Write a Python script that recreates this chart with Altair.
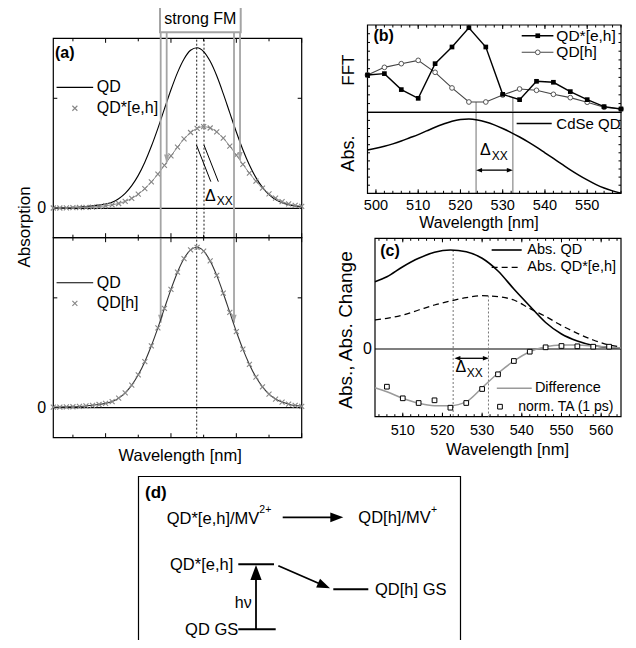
import altair as alt
import pandas as pd

# ---------------- data ----------------
# (a) model absorption spectra (arbitrary wavelength grid, no tick labels in the original)
A_WL = list(range(484, 561, 2))
A_QD = [0.003, 0.004, 0.005, 0.006, 0.008, 0.011, 0.015, 0.020, 0.027, 0.038,
        0.060, 0.093, 0.141, 0.205, 0.287, 0.386, 0.498, 0.619, 0.738, 0.845,
        0.930, 0.984, 1.000, 0.976, 0.915, 0.825, 0.714, 0.594, 0.475, 0.365,
        0.270, 0.191, 0.130, 0.085, 0.054, 0.035, 0.022, 0.014, 0.009]
A_QD_EH = [0.002, 0.002, 0.003, 0.004, 0.005, 0.006, 0.008, 0.011, 0.016, 0.022,
           0.030, 0.043, 0.062, 0.088, 0.122, 0.164, 0.213, 0.268, 0.326, 0.381,
           0.432, 0.472, 0.498, 0.508, 0.500, 0.476, 0.437, 0.387, 0.331, 0.274,
           0.219, 0.169, 0.126, 0.090, 0.063, 0.042, 0.028, 0.018, 0.012]
A_QD_H = [0.003, 0.004, 0.005, 0.006, 0.008, 0.011, 0.015, 0.020, 0.027, 0.038,
          0.060, 0.093, 0.141, 0.205, 0.287, 0.386, 0.498, 0.619, 0.738, 0.845,
          0.930, 0.984, 1.000, 0.976, 0.915, 0.825, 0.714, 0.594, 0.475, 0.365,
          0.270, 0.191, 0.130, 0.085, 0.054, 0.035, 0.022, 0.014, 0.009]
A_TICK_MAJOR = [500, 520, 540, 560]
A_TICK_MINOR = [490, 510, 530, 550]

# (b) FFT amplitudes and CdSe QD absorption
B_FFT_WL = list(range(498, 559, 4))
B_FFT_EH = [0.427, 0.443, 0.260, 0.160, 0.557, 0.748, 0.969, 0.748,
            0.206, 0.145, 0.355, 0.344, 0.237, 0.145, 0.065, 0.038]
B_FFT_H = [0.427, 0.515, 0.557, 0.595, 0.458, 0.279, 0.118, 0.118,
           0.198, 0.267, 0.252, 0.206, 0.168, 0.115, 0.057, 0.038]
B_ABS_WL = list(range(498, 559, 2))
B_ABS = [0.534, 0.555, 0.580, 0.610, 0.645, 0.685, 0.725, 0.770, 0.815, 0.855,
         0.890, 0.910, 0.916, 0.905, 0.880, 0.845, 0.800, 0.750, 0.695, 0.635,
         0.570, 0.500, 0.430, 0.360, 0.290, 0.225, 0.165, 0.110, 0.065, 0.030, 0.000]
B_TICKS = [500, 510, 520, 530, 540, 550]

# (c) absorption, absorption change, transient absorption
C_WL = [503, 506, 510, 514, 518, 522, 526, 530, 534, 538, 542, 546, 550, 554, 558, 562, 565]
C_ABS_QD = [0.673, 0.723, 0.823, 0.907, 0.967, 0.990, 0.973, 0.907, 0.780, 0.600,
            0.430, 0.265, 0.150, 0.080, 0.035, 0.015, 0.007]
C_ABS_QD_EH = [0.290, 0.307, 0.340, 0.390, 0.440, 0.480, 0.513, 0.533, 0.523, 0.490,
               0.405, 0.325, 0.235, 0.157, 0.090, 0.040, 0.020]
C_DIFF = [-0.387, -0.427, -0.493, -0.543, -0.567, -0.567, -0.527, -0.387, -0.243, -0.120,
          -0.027, 0.023, 0.040, 0.040, 0.030, 0.017, 0.010]
C_TA_WL = list(range(506, 563, 4))
C_TA = [-0.377, -0.493, -0.540, -0.513, -0.587, -0.540, -0.400, -0.253,
        -0.120, -0.027, 0.017, 0.030, 0.027, 0.023, 0.023]
C_TICKS = [510, 520, 530, 540, 550, 560]

# ---------------- helpers ----------------
OFF = 8
FONT = "Liberation Sans"
GREY = "#868686"
LGREY = "#a4a4a4"
CROSS = "M-1,-1L1,1M-1,1L1,-1"
HEAD_R = "M0,0L-2,-0.75L-2,0.75Z"
HEAD_L = "M0,0L2,-0.75L2,0.75Z"
HEAD_U = "M0,0L-0.75,2L0.75,2Z"
HEAD_D = "M0,0L-0.66,-2L0.66,-2Z"


def panel(xdom, xpx, ydom, ypx):
    return dict(
        xs=alt.Scale(domain=xdom, range=[xpx[0] - OFF, xpx[1] - OFF], nice=False, zero=False),
        ys=alt.Scale(domain=ydom, range=[ypx[0] - OFF, ypx[1] - OFF], nice=False, zero=False),
        xu=(xpx[1] - xpx[0]) / (xdom[1] - xdom[0]),
        yu=(ypx[0] - ypx[1]) / (ydom[1] - ydom[0]),
        xdom=xdom, ydom=ydom)


def XY(p, two=False):
    e = {"x": alt.X("x:Q", scale=p["xs"], axis=None),
         "y": alt.Y("y:Q", scale=p["ys"], axis=None)}
    if two:
        e["x2"] = alt.X2(field="x2")
        e["y2"] = alt.Y2(field="y2")
    return e


def line(p, xs, ys, **mk):
    d = pd.DataFrame({"x": xs, "y": ys})
    return alt.Chart(d).mark_line(**mk).encode(**XY(p))


def pts(p, xs, ys, **mk):
    d = pd.DataFrame({"x": xs, "y": ys})
    base = dict(opacity=1)
    base.update(mk)
    return alt.Chart(d).mark_point(**base).encode(**XY(p))


def heads(p, xs, ys, shape, size, color="black", angle=0):
    d = pd.DataFrame({"x": xs, "y": ys})
    return alt.Chart(d).mark_point(shape=shape, size=size, filled=True, fill=color,
                                   color=color, opacity=1, strokeWidth=0,
                                   angle=angle).encode(**XY(p))


def segs(p, rows, **mk):
    d = pd.DataFrame(rows, columns=["x", "y", "x2", "y2"])
    return alt.Chart(d).mark_rule(**mk).encode(**XY(p, True))


def box(p, x, x2, y, y2, **mk):
    d = pd.DataFrame({"x": [x], "x2": [x2], "y": [y], "y2": [y2]})
    return alt.Chart(d).mark_rect(**mk).encode(**XY(p, True))


def frame(p):
    return box(p, p["xdom"][0], p["xdom"][1], p["ydom"][0], p["ydom"][1],
               fillOpacity=0, stroke="black", strokeWidth=1.2)


def label(p, xs, ys, texts, **mk):
    if not isinstance(xs, list):
        xs, ys, texts = [xs], [ys], [texts]
    d = pd.DataFrame({"x": xs, "y": ys, "t": texts})
    base = dict(font=FONT, fontSize=16, color="black")
    base.update(mk)
    return alt.Chart(d).mark_text(**base).encode(text="t:N", **XY(p))


def xticks(p, vals, edge, inward, length, **mk):
    rows = [(v, edge, v, edge + inward * length / p["yu"]) for v in vals]
    return segs(p, rows, color="black", strokeWidth=1, **mk)


def yticks(p, vals, edge, inward, length):
    rows = [(edge, v, edge + inward * length / p["xu"], v) for v in vals]
    return segs(p, rows, color="black", strokeWidth=1)


# ---------------- panels ----------------
PA1 = panel([484, 560], (53.3, 301.7), [-0.183, 1.0585], (237.7, 38.3))
PA2 = panel([484, 560], (53.3, 301.7), [-0.187, 1.06], (437.7, 237.7))
PB1 = panel([498, 558], (367.5, 621), [0, 1], (112.3, 25))
PB2 = panel([498, 558], (367.5, 621), [0, 1], (193.3, 112.3))
PC = panel([503, 565], (375, 621), [-0.677, 1.107], (416.7, 238.3))
PD = panel([0, 322], (138.5, 460.5), [0, 170], (646.5, 476.5))

# ----- (a) upper -----
a1 = alt.layer(
    frame(PA1),
    segs(PA1, [(484, 0, 560, 0)], color="black", strokeWidth=1.2),
    segs(PA1, [(527.88, -0.183, 527.88, 1.0585), (530.11, -0.183, 530.11, 1.0585)],
         color="black", strokeWidth=0.9, strokeDash=[2, 2]),
    line(PA1, A_WL, A_QD, color="black", strokeWidth=1.1, interpolate="monotone"),
    line(PA1, A_WL, A_QD_EH, color=GREY, strokeWidth=1, interpolate="monotone"),
    pts(PA1, A_WL, A_QD_EH, shape=CROSS, size=25, color=GREY, strokeWidth=1.1),
    segs(PA1, [(527.8, 0.394, 532.2, 0.166), (530.1, 0.394, 534.5, 0.166)],
         color="black", strokeWidth=1),
    label(PA1, 530.4, 0.075, "Δ", align="left", fontSize=16),
    label(PA1, 534.0, 0.045, "XX", align="left", fontSize=12),
    segs(PA1, [(485.0, 0.753, 496.2, 0.753)], color="black", strokeWidth=1.1),
    label(PA1, 497.3, 0.753, "QD", align="left"),
    pts(PA1, [490.6], [0.623], shape=CROSS, size=25, color=GREY, strokeWidth=1.1),
    label(PA1, 497.3, 0.623, "QD*[e,h]", align="left"),
    label(PA1, 484.5, 0.965, "(a)", align="left", fontWeight="bold"),
    label(PA1, 481.8, 0.0, "0", align="right"),
    label(PA1, 475.3, -0.116, "Absorption", angle=270, fontSize=17),
    xticks(PA1, A_TICK_MAJOR, 1.0585, -1, 4.5),
    xticks(PA1, A_TICK_MINOR, 1.0585, -1, 3),
    xticks(PA1, A_TICK_MAJOR, -0.183, 1, 4.5),
    xticks(PA1, A_TICK_MINOR, -0.183, 1, 3),
    yticks(PA1, [0.685], 484, 1, 4),
    yticks(PA1, [0.685], 560, -1, 4),
    # "strong FM" arrows
    segs(PA1, [(516.86, 1.096, 516.86, -0.712), (539.29, 1.096, 539.29, -0.712),
               (518.69, 1.096, 518.69, 0.285), (541.13, 1.096, 541.13, 0.30)],
         color=LGREY, strokeWidth=1.8),
    heads(PA1, [516.86, 539.29, 518.69, 541.13], [-0.712, -0.712, 0.285, 0.30],
          HEAD_D, 64, LGREY),
    box(PA1, 516.65, 541.34, 1.096, 1.264, fill="white", stroke=LGREY, strokeWidth=2),
    label(PA1, 528.98, 1.18, "strong FM"),
)

# ----- (a) lower -----
a2 = alt.layer(
    frame(PA2),
    segs(PA2, [(484, 0, 560, 0)], color="black", strokeWidth=1.2),
    segs(PA2, [(527.88, -0.187, 527.88, 1.06)], color="black", strokeWidth=0.9,
         strokeDash=[2, 2]),
    line(PA2, A_WL, A_QD, color="#333333", strokeWidth=1.1, interpolate="monotone"),
    pts(PA2, A_WL, A_QD_H, shape=CROSS, size=25, color=GREY, strokeWidth=1.1),
    segs(PA2, [(485.0, 0.779, 496.2, 0.779)], color="black", strokeWidth=1.1),
    label(PA2, 497.3, 0.779, "QD", align="left"),
    pts(PA2, [490.6], [0.651], shape=CROSS, size=25, color=GREY, strokeWidth=1.1),
    label(PA2, 497.3, 0.651, "QD[h]", align="left"),
    label(PA2, 481.8, 0.0, "0", align="right"),
    xticks(PA2, A_TICK_MAJOR, 1.06, -1, 4.5),
    xticks(PA2, A_TICK_MINOR, 1.06, -1, 3),
    xticks(PA2, A_TICK_MAJOR, -0.187, 1, 4.5),
    xticks(PA2, A_TICK_MINOR, -0.187, 1, 3),
    yticks(PA2, [0.685], 484, 1, 4),
    yticks(PA2, [0.685], 560, -1, 4),
    label(PA2, 522.8, -0.301, "Wavelength [nm]", fontSize=16.5),
)

# ----- (b) upper: FFT -----
b_minor = list(range(498, 559, 2))
b_major = [500, 510, 520, 530, 540, 550]
b1 = alt.layer(
    frame(PB1),
    segs(PB1, [(523.7, 0.118, 523.7, -0.928), (532.4, 0.17, 532.4, -0.928)],
         color="#9a9a9a", strokeWidth=1.4),
    line(PB1, B_FFT_WL, B_FFT_H, color="#444444", strokeWidth=1.1),
    pts(PB1, B_FFT_WL, B_FFT_H, shape="circle", size=22, filled=True, fill="white",
        stroke="#555555", strokeWidth=1),
    line(PB1, B_FFT_WL, B_FFT_EH, color="black", strokeWidth=1.4),
    pts(PB1, B_FFT_WL, B_FFT_EH, shape="square", size=22, filled=True, color="black"),
    segs(PB1, [(534.5, 0.877, 542.0, 0.877)], color="black", strokeWidth=1.4),
    pts(PB1, [538.3], [0.877], shape="square", size=22, filled=True, color="black"),
    label(PB1, 542.7, 0.877, "QD*[e,h]", align="left", fontSize=15.5),
    segs(PB1, [(534.5, 0.687, 542.0, 0.687)], color="#444444", strokeWidth=1.1),
    pts(PB1, [538.3], [0.687], shape="circle", size=22, filled=True, fill="white",
        stroke="#555555", strokeWidth=1),
    label(PB1, 542.7, 0.687, "QD[h]", align="left", fontSize=15.5),
    label(PB1, 499.4, 0.877, "(b)", align="left", fontWeight="bold"),
    label(PB1, 493.6, 0.483, "FFT", angle=270, fontSize=17),
    xticks(PB1, b_major, 1, -1, 4),
    xticks(PB1, b_minor, 1, -1, 2.5),
    yticks(PB1, [0.1 * i for i in range(1, 10)], 498, 1, 2.5),
    yticks(PB1, [0.1 * i for i in range(1, 10)], 558, -1, 2.5),
)

# ----- (b) lower: absorption -----
b2 = alt.layer(
    frame(PB2),
    line(PB2, B_ABS_WL, B_ABS, color="black", strokeWidth=1.5, interpolate="monotone"),
    segs(PB2, [(533.3, 0.861, 541.6, 0.861)], color="black", strokeWidth=1.5),
    label(PB2, 542.7, 0.861, "CdSe QD", align="left", fontSize=15),
    label(PB2, 493.6, 0.49, "Abs.", angle=270, fontSize=18),
    segs(PB2, [(524.6, 0.286, 531.5, 0.286)], color="black", strokeWidth=1.3),
    heads(PB2, [523.7], [0.286], HEAD_L, 36),
    heads(PB2, [532.4], [0.286], HEAD_R, 36),
    label(PB2, 524.6, 0.53, "Δ", align="left", fontSize=16),
    label(PB2, 527.4, 0.455, "XX", align="left", fontSize=12),
    label(PB2, B_TICKS, [-0.158] * len(B_TICKS), [str(t) for t in B_TICKS], fontSize=14.5),
    label(PB2, 524.4, -0.366, "Wavelength [nm]", fontSize=16),
    xticks(PB2, b_major, 0, 1, 4),
    xticks(PB2, b_minor, 0, 1, 2.5),
    yticks(PB2, [0.1 * i for i in range(1, 10)], 498, 1, 2.5),
    yticks(PB2, [0.1 * i for i in range(1, 10)], 558, -1, 2.5),
)

# ----- (c) -----
c_minor = list(range(504, 565, 2))
c_major = C_TICKS
c = alt.layer(
    frame(PC),
    segs(PC, [(503, 0, 565, 0)], color="black", strokeWidth=1.2),
    segs(PC, [(522.7, 0.99, 522.7, -0.677), (531.6, 0.535, 531.6, -0.677)],
         color="#777777", strokeWidth=1, strokeDash=[2, 2]),
    line(PC, C_WL, C_ABS_QD, color="black", strokeWidth=1.6, interpolate="monotone"),
    line(PC, C_WL, C_ABS_QD_EH, color="black", strokeWidth=1.3, strokeDash=[6, 4],
         interpolate="monotone"),
    line(PC, C_WL, C_DIFF, color="#9a9a9a", strokeWidth=1.5, interpolate="monotone"),
    pts(PC, C_TA_WL, C_TA, shape="square", size=22, filled=True, fill="white",
        stroke="black", strokeWidth=1),
    segs(PC, [(532.4, 0.99, 539.97, 0.99)], color="black", strokeWidth=1.6),
    label(PC, 541.4, 0.99, "Abs. QD", align="left", fontSize=14.5),
    segs(PC, [(532.4, 0.817, 539.97, 0.817)], color="black", strokeWidth=1.3,
         strokeDash=[6, 4]),
    label(PC, 541.4, 0.817, "Abs. QD*[e,h]", align="left", fontSize=14.5),
    segs(PC, [(533.7, -0.393, 542.5, -0.393)], color="#9a9a9a", strokeWidth=1.5),
    label(PC, 543.3, -0.393, "Difference", align="left", fontSize=14.5),
    pts(PC, [534.5], [-0.577], shape="square", size=22, filled=True, fill="white",
        stroke="black", strokeWidth=1),
    label(PC, 539.1, -0.577, "norm. TA (1 ps)", align="left", fontSize=14),
    label(PC, 504.3, 0.98, "(c)", align="left", fontWeight="bold"),
    label(PC, 502.2, 0.0, "0", align="right"),
    label(PC, 495.7, 0.19, "Abs., Abs. Change", angle=270, fontSize=19),
    segs(PC, [(523.9, -0.093, 530.8, -0.093)], color="black", strokeWidth=1.3),
    heads(PC, [523.0], [-0.093], HEAD_L, 36),
    heads(PC, [531.7], [-0.093], HEAD_R, 36),
    label(PC, 523.3, -0.177, "Δ", align="left", fontSize=16),
    label(PC, 526.1, -0.243, "XX", align="left", fontSize=12),
    label(PC, C_TICKS, [-0.82] * len(C_TICKS), [str(t) for t in C_TICKS], fontSize=14.5),
    label(PC, 536.4, -1.01, "Wavelength [nm]", fontSize=16.5),
    xticks(PC, c_major, -0.677, 1, 4),
    xticks(PC, c_minor, -0.677, 1, 2.5),
    xticks(PC, c_major, 1.107, -1, 4),
    xticks(PC, c_minor, 1.107, -1, 2.5),
)

# ----- (d) scheme -----
d = alt.layer(
    frame(PD),
    label(PD, 6.5, 153.2, "(d)", align="left", fontWeight="bold", fontSize=17),
    label(PD, 28.2, 127.5, "QD*[e,h]/MV", align="left", fontSize=16.5),
    label(PD, 120.8, 136.5, "2+", align="left", fontSize=10.5),
    segs(PD, [(144.2, 129.2, 199.8, 129.2)], color="black", strokeWidth=1.8),
    heads(PD, [204.8], [129.2], HEAD_R, 169),
    label(PD, 219.8, 128.2, "QD[h]/MV", align="left", fontSize=16.5),
    label(PD, 292.4, 136.5, "+", align="left", fontSize=10.5),
    label(PD, 94.8, 81.5, "QD*[e,h]", align="right", fontSize=16.5),
    segs(PD, [(99.8, 82.2, 135.5, 82.2), (194.8, 57.2, 229.8, 57.2),
              (99.8, 17.2, 137.2, 17.2)], color="black", strokeWidth=2),
    segs(PD, [(139.8, 80.8, 186.9, 60.2), (117.5, 17.2, 117.5, 76.5)],
         color="black", strokeWidth=1.8),
    heads(PD, [191.5], [58.2], HEAD_R, 169, angle=23.6),
    heads(PD, [117.5], [81.5], HEAD_U, 225),
    label(PD, 236.5, 56.5, "QD[h] GS", align="left", fontSize=16.5),
    label(PD, 113.2, 43.2, "hν", align="right", fontSize=16),
    label(PD, 99.8, 16.5, "QD GS", align="right", fontSize=16.5),
)

chart = alt.layer(a1, a2, b1, b2, c, d).resolve_scale(
    x="independent", y="independent"
).properties(
    width=620, height=632, padding=0,
    autosize=alt.AutoSizeParams(type="none"),
).configure_view(stroke=None)

chart.save("out.html", embed_options={"renderer": "svg", "actions": False})
